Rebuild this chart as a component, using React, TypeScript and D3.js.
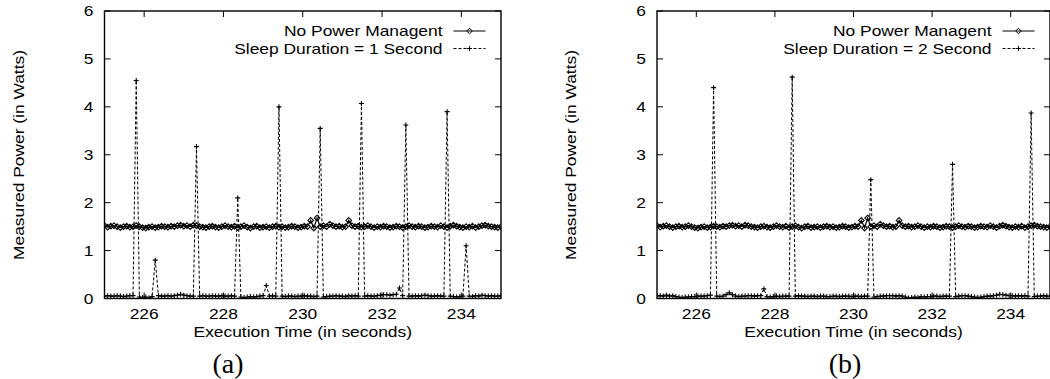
import * as d3 from 'd3';

// sampling grid of the power meter (seconds)
const T_START = 225;
const T_STEP = 0.08;

// no power management (same trace in both panels)
const noPm = [
  1.52, 1.49, 1.51, 1.52, 1.50, 1.48, 1.50, 1.51, 1.49, 1.50,
  1.52, 1.50, 1.48, 1.47, 1.49, 1.50, 1.48, 1.49, 1.51, 1.50,
  1.49, 1.51, 1.50, 1.52, 1.53, 1.51, 1.52, 1.50, 1.53, 1.52,
  1.50, 1.49, 1.48, 1.50, 1.51, 1.49, 1.48, 1.50, 1.52, 1.50,
  1.49, 1.51, 1.48, 1.50, 1.52, 1.49, 1.47, 1.50, 1.51, 1.48,
  1.49, 1.50, 1.48, 1.50, 1.51, 1.49, 1.50, 1.48, 1.49, 1.51,
  1.50, 1.48, 1.49, 1.51, 1.50, 1.63, 1.47, 1.68, 1.50, 1.52,
  1.50, 1.55, 1.52, 1.50, 1.51, 1.49, 1.50, 1.63, 1.52, 1.50,
  1.51, 1.49, 1.50, 1.52, 1.50, 1.48, 1.50, 1.49, 1.51, 1.50,
  1.48, 1.49, 1.51, 1.50, 1.48, 1.50, 1.52, 1.50, 1.49, 1.51,
  1.50, 1.48, 1.49, 1.51, 1.50, 1.49, 1.52, 1.50, 1.48, 1.51,
  1.53, 1.51, 1.49, 1.48, 1.50, 1.49, 1.51, 1.48, 1.50, 1.52,
  1.53, 1.51, 1.50, 1.49, 1.48, 1.50,
];

// sleep duration = 1 second
const sleep1 = [
  0.05, 0.06, 0.05, 0.05, 0.06, 0.05, 0.04, 0.05, 0.06, 0.06,
  4.55, 0.03, 0.02, 0.03, 0.01, 0.04, 0.80, 0.06, 0.05, 0.05,
  0.06, 0.05, 0.06, 0.07, 0.09, 0.07, 0.06, 0.05, 0.05, 3.17,
  0.05, 0.06, 0.05, 0.05, 0.06, 0.05, 0.05, 0.06, 0.05, 0.05,
  0.06, 0.05, 2.10, 0.03, 0.02, 0.03, 0.04, 0.03, 0.04, 0.05,
  0.06, 0.27, 0.05, 0.06, 0.05, 4.00, 0.05, 0.04, 0.05, 0.05,
  0.04, 0.05, 0.05, 0.06, 0.05, 0.05, 0.04, 0.05, 3.55, 0.03,
  0.04, 0.05, 0.05, 0.06, 0.05, 0.05, 0.04, 0.06, 0.05, 0.06,
  0.05, 4.07, 0.05, 0.06, 0.05, 0.05, 0.06, 0.07, 0.08, 0.08,
  0.07, 0.08, 0.09, 0.22, 0.06, 3.62, 0.05, 0.05, 0.06, 0.05,
  0.06, 0.07, 0.06, 0.05, 0.05, 0.06, 0.05, 0.05, 3.90, 0.05,
  0.04, 0.03, 0.04, 0.05, 1.10, 0.05, 0.04, 0.06, 0.05, 0.07,
  0.06, 0.05, 0.06, 0.05, 0.05, 0.06,
];

// sleep duration = 2 second
const sleep2 = [
  0.05, 0.06, 0.05, 0.07, 0.05, 0.06, 0.04, 0.03, 0.02, 0.03,
  0.03, 0.04, 0.04, 0.05, 0.05, 0.05, 0.06, 0.07, 4.40, 0.05,
  0.04, 0.05, 0.08, 0.12, 0.08, 0.05, 0.04, 0.05, 0.05, 0.06,
  0.06, 0.05, 0.06, 0.06, 0.20, 0.04, 0.03, 0.04, 0.05, 0.04,
  0.05, 0.05, 0.05, 4.62, 0.05, 0.06, 0.05, 0.05, 0.04, 0.05,
  0.05, 0.04, 0.05, 0.05, 0.04, 0.04, 0.05, 0.05, 0.04, 0.05,
  0.05, 0.05, 0.04, 0.05, 0.05, 0.04, 0.05, 0.05, 2.48, 0.03,
  0.04, 0.05, 0.05, 0.06, 0.06, 0.06, 0.05, 0.06, 0.05, 0.03,
  0.01, 0.02, 0.03, 0.02, 0.04, 0.03, 0.04, 0.04, 0.05, 0.05,
  0.04, 0.05, 0.05, 0.05, 2.80, 0.04, 0.05, 0.06, 0.06, 0.05,
  0.04, 0.03, 0.02, 0.03, 0.04, 0.05, 0.05, 0.06, 0.07, 0.09,
  0.08, 0.07, 0.06, 0.06, 0.05, 0.06, 0.05, 0.06, 0.05, 3.87,
  0.04, 0.05, 0.05, 0.06, 0.05, 0.05,
];

const xTicks = [226, 228, 230, 232, 234];
const yTicks = [0, 1, 2, 3, 4, 5, 6];
const legendNoPm = 'No Power Managent';
const panels = [
  { id: 'a', sleep: sleep1, legend: 'Sleep Duration = 1 Second', left: 104.5, right: 501 },
  { id: 'b', sleep: sleep2, legend: 'Sleep Duration = 2 Second', left: 657, right: 1050 },
];

const FONT = '"Liberation Sans", Arial, Helvetica, sans-serif';
const FS = 15;
const SX = 1.16; // the original glyphs are drawn a bit wide
const TOP = 11;
const BOTTOM = 298.5;

const diamond = (x: number, y: number, r = 2.8) =>
  `M${x},${y - r}L${x + r},${y}L${x},${y + r}L${x - r},${y}Z`;
const plus = (x: number, y: number, r = 2.5) =>
  `M${x - r},${y}H${x + r}M${x},${y - r}V${y + r}`;

// text with the wide sans look of the original
function T({ x, y, anchor = 'middle', rotate = 0, children }:
  { x: number; y: number; anchor?: string; rotate?: number; children: any }) {
  return (
    <text transform={`translate(${x},${y}) rotate(${rotate}) scale(${SX},1)`}
      dy="0.35em" textAnchor={anchor} fontSize={FS}>{children}</text>
  );
}

function Panel({ id, sleep, legend, left, right }: typeof panels[number]) {
  const x = d3.scaleLinear().domain([225, 235]).range([left, right]);
  const y = d3.scaleLinear().domain([0, 6]).range([BOTTOM, TOP]);
  const t = (i: number) => T_START + i * T_STEP;
  const line = d3.line<number>().x((_, i) => x(t(i))).y(d => y(d));
  const clipId = `clip-${id}`;
  const cx = (left + right) / 2;
  const legRight = right - 58.5;

  return (
    <g>
      <defs>
        <clipPath id={clipId}>
          <rect x={left} y={TOP} width={right - left} height={BOTTOM - TOP} />
        </clipPath>
      </defs>

      {/* ticks */}
      {yTicks.map(v => (
        <g key={'y' + v}>
          <line x1={left} x2={left + 6} y1={y(v)} y2={y(v)} stroke="#000" />
          <line x1={right - 6} x2={right} y1={y(v)} y2={y(v)} stroke="#000" />
          <T x={left - 11} y={y(v)} anchor="end">{v}</T>
        </g>
      ))}
      {xTicks.map(v => (
        <g key={'x' + v}>
          <line x1={x(v)} x2={x(v)} y1={TOP} y2={TOP + 6} stroke="#000" />
          <line x1={x(v)} x2={x(v)} y1={BOTTOM} y2={BOTTOM - 6} stroke="#000" />
          <T x={x(v)} y={BOTTOM + 15}>{v}</T>
        </g>
      ))}

      {/* data */}
      <g clipPath={`url(#${clipId})`}>
        <path d={line(noPm) ?? ''} fill="none" stroke="#000" strokeWidth={1.2} />
        {noPm.map((v, i) => (
          <path key={'d' + i} d={diamond(x(t(i)), y(v))} fill="none" stroke="#000" strokeWidth={1.1} />
        ))}
        <path d={line(sleep) ?? ''} fill="none" stroke="#000" strokeWidth={1} strokeDasharray="3,2" />
        {sleep.map((v, i) => (
          <path key={'p' + i} d={plus(x(t(i)), y(v))} fill="none" stroke="#000" strokeWidth={1.1} />
        ))}
      </g>

      <rect x={left} y={TOP} width={right - left} height={BOTTOM - TOP} fill="none" stroke="#000" strokeWidth={1.4} />

      {/* legend */}
      <T x={legRight} y={31} anchor="end">{legendNoPm}</T>
      <line x1={legRight + 11} x2={legRight + 43} y1={31} y2={31} stroke="#000" />
      <path d={diamond(legRight + 27, 31)} fill="none" stroke="#000" strokeWidth={1} />
      <T x={legRight} y={48.5} anchor="end">{legend}</T>
      <line x1={legRight + 11} x2={legRight + 43} y1={48.5} y2={48.5} stroke="#000" strokeDasharray="3,2" />
      <path d={plus(legRight + 27, 48.5)} fill="none" stroke="#000" strokeWidth={1} />

      {/* axis titles */}
      <T x={cx} y={332}>Execution Time (in seconds)</T>
      <T x={left - 86} y={155} rotate={-90}>Measured Power (in Watts)</T>
      <text x={id === 'a' ? 228 : 845} y={363} dy="0.35em" textAnchor="middle" fontSize={28}
        fontFamily='"Liberation Serif", "DejaVu Serif", serif'>({id})</text>
    </g>
  );
}

export default function App() {
  return (
    <svg width={1050} height={379} viewBox="0 0 1050 379"
      style={{ position: 'absolute', left: 0, top: 0, background: '#fff' }}
      fontFamily={FONT}>
      <rect width={1050} height={379} fill="#fff" />
      {panels.map(p => <Panel key={p.id} {...p} />)}
    </svg>
  );
}
